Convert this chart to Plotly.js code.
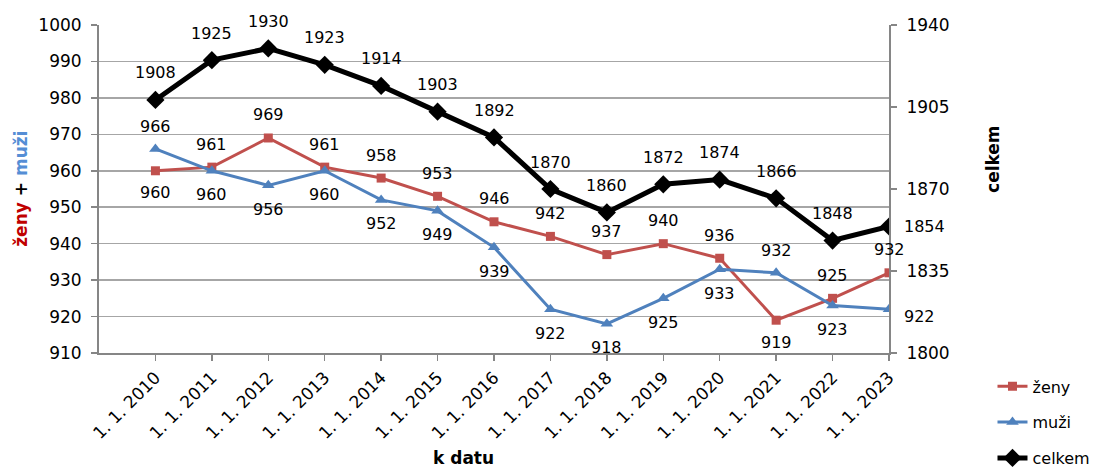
<!DOCTYPE html>
<html>
<head>
<meta charset="utf-8">
<script src="https://cdn.plot.ly/plotly-3.0.1.min.js"></script>
<style>
html,body{margin:0;padding:0;background:#fff;}
#chart{width:1098px;height:472px;}
</style>
</head>
<body>
<div id="chart"></div>
<script>
// ---- data ----
const categories = ["1. 1. 2010","1. 1. 2011","1. 1. 2012","1. 1. 2013","1. 1. 2014","1. 1. 2015","1. 1. 2016","1. 1. 2017","1. 1. 2018","1. 1. 2019","1. 1. 2020","1. 1. 2021","1. 1. 2022","1. 1. 2023"];
const zeny   = [960, 961, 969, 961, 958, 953, 946, 942, 937, 940, 936, 919, 925, 932];
const muzi   = [966, 960, 956, 960, 952, 949, 939, 922, 918, 925, 933, 932, 923, 922];
const celkem = [1908, 1925, 1930, 1923, 1914, 1903, 1892, 1870, 1860, 1872, 1874, 1866, 1848, 1854];

// label placement (style, not data)
const zenyPos   = ["below","above","above","above","above","above","above","above","above","above","above","below","above","above"];
const muziPos   = ["above","below","below","below","below","below","below","below","below","below","below","above","below","right"];
const celkemPos = ["above","above","above","above","above","above","above","above","above","above","above","above","above","right"];

const FONT = "DejaVu Sans, Verdana, sans-serif";
const RED = "#c0504d", BLUE = "#4f81bd", BLACK = "#000000";
const idx = categories.map((c, i) => i);

const traces = [
  {x: idx, y: zeny, name: "ženy", type: "scatter", mode: "lines+markers", yaxis: "y",
   line: {color: RED, width: 3}, marker: {symbol: "square", size: 9, color: RED},
   legendgroup: "a", hoverinfo: "y"},
  {x: idx, y: muzi, name: "muži", type: "scatter", mode: "lines+markers", yaxis: "y",
   line: {color: BLUE, width: 3}, marker: {symbol: "triangle-up", size: 11, color: BLUE},
   legendgroup: "b", hoverinfo: "y"},
  {x: idx, y: celkem, name: "celkem", type: "scatter", mode: "lines+markers", yaxis: "y2",
   line: {color: BLACK, width: 5}, marker: {symbol: "diamond", size: 14, color: BLACK},
   legendgroup: "c", hoverinfo: "y"}
];

function labels(vals, pos, yref, up, down) {
  return vals.map((v, i) => {
    const p = pos[i];
    const a = {x: i, y: v, xref: "x", yref: yref, text: String(v), showarrow: false,
      font: {family: FONT, size: 16, color: "#000"}, xanchor: "center", yanchor: "middle"};
    if (p === "above") a.yshift = up;
    else if (p === "below") a.yshift = -down;
    else { a.xanchor = "left"; a.xshift = 13; a.yshift = (yref === "y" ? -7 : 0); }
    return a;
  });
}

const annotations = []
  .concat(labels(zeny, zenyPos, "y", 23, 22))
  .concat(labels(muzi, muziPos, "y", 22, 24))
  .concat(labels(celkem, celkemPos, "y2", 27, 27))
  .concat([
    {xref: "paper", yref: "paper", x: -0.099, y: 0.5, textangle: -90, showarrow: false,
     xanchor: "center", yanchor: "middle",
     text: "<b><span style='color:#c00000'>ženy</span> + <span style='color:#558ed5'>muži</span></b>",
     font: {family: FONT, size: 17, color: "#000"}},
    {xref: "paper", yref: "paper", x: 1.1316, y: 0.5915, textangle: -90, showarrow: false,
     xanchor: "center", yanchor: "middle", text: "<b>celkem</b>",
     font: {family: FONT, size: 17, color: "#000"}},
    {xref: "paper", yref: "paper", x: 0.462, y: -0.3565, showarrow: false,
     xanchor: "center", yanchor: "bottom", text: "<b>k datu</b>",
     font: {family: FONT, size: 17, color: "#000"}}
  ]);

const layout = {
  width: 1098, height: 472,
  margin: {l: 99, r: 209, t: 25, b: 119, pad: 0, autoexpand: false},
  paper_bgcolor: "#fff", plot_bgcolor: "#fff",
  font: {family: FONT, size: 16, color: "#000"},
  showlegend: true,
  legend: {x: 1.131, y: -0.05, xanchor: "left", yanchor: "top",
           font: {family: FONT, size: 16, color: "#000"},
           traceorder: "grouped", tracegroupgap: 12, bgcolor: "rgba(0,0,0,0)"},
  xaxis: {type: "linear", range: [-1, 13], tickmode: "array", tickvals: idx, ticktext: categories,
          tickangle: -45, showgrid: false, zeroline: false,
          showline: true, linecolor: "#868686", linewidth: 2,
          ticks: "outside", ticklen: 6, tickcolor: "#868686", tickwidth: 1.5,
          tickfont: {family: FONT, size: 17, color: "#000"}},
  yaxis: {range: [910, 1000], dtick: 10, tick0: 910, showgrid: true, gridcolor: "#a6a6a6", gridwidth: 1.5,
          zeroline: false, showline: true, linecolor: "#868686", linewidth: 2,
          ticks: "outside", ticklen: 6, tickcolor: "#868686", tickwidth: 1.5,
          ticklabelstandoff: 6,
          tickfont: {family: FONT, size: 17, color: "#000"}},
  yaxis2: {range: [1800, 1940], dtick: 35, tick0: 1800, overlaying: "y", side: "right",
           showgrid: false, zeroline: false, showline: true, linecolor: "#868686", linewidth: 2,
           ticks: "outside", ticklen: 6, tickcolor: "#868686", tickwidth: 1.5,
           ticklabelstandoff: 6,
           tickfont: {family: FONT, size: 17, color: "#000"}},
  annotations: annotations
};

Plotly.newPlot("chart", traces, layout, {displayModeBar: false, staticPlot: true});
</script>
</body>
</html>
